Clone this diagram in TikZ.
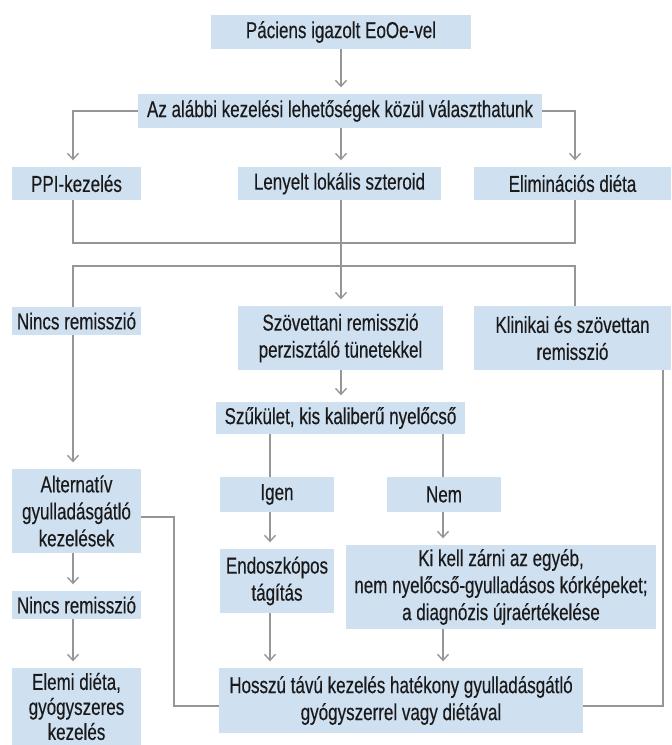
\documentclass[tikz,border=0pt]{standalone}
\usepackage{fontspec}
\setmainfont{Liberation Sans}[FakeStretch=0.74,FakeBold=0.35]
\usetikzlibrary{arrows.meta}
\definecolor{boxfill}{RGB}{207,224,241}
\definecolor{linegray}{RGB}{150,150,150}
\definecolor{txt}{RGB}{26,26,26}
\tikzset{
  box/.style={fill=boxfill, draw=none, inner sep=0pt, align=center, text=txt,
    font=\fontsize{23}{27}\selectfont},
  conn/.style={draw=linegray, line width=1.4pt},
  arr/.style={conn, -{Straight Barb[length=6pt,width=11pt]}, shorten >=6.5pt},
}
\begin{document}
\begin{tikzpicture}[x=1pt,y=-1pt]
\useasboundingbox (0,0) rectangle (672,745);
% column / row helper coordinates
\coordinate (cl) at (73,0);
\coordinate (cm) at (341,0);
\coordinate (cr) at (575,0);
\coordinate (ci) at (270,0);
\coordinate (cn) at (443,0);
\coordinate (ca) at (174,0);
\coordinate (cf) at (663,0);
\coordinate (j1) at (0,243);
\coordinate (j2) at (0,266);
\coordinate (ja) at (0,517);
\coordinate (jb) at (0,706);
% nodes
\node[box, minimum width=260pt, minimum height=34pt] (top) at (341,32) {Páciens igazolt EoOe-vel};
\node[box, minimum width=404pt, minimum height=34pt] (opts) at (340,111) {Az alábbi kezelési lehetőségek közül választhatunk};
\node[box, minimum width=129pt, minimum height=33pt] (ppi) at (76.5,183.5) {PPI-kezelés};
\node[box, minimum width=203pt, minimum height=33pt] (lenyelt) at (339.5,183.5) {Lenyelt lokális szteroid};
\node[box, minimum width=197pt, minimum height=33pt] (elim) at (572.5,183.5) {Eliminációs diéta};
\node[box, minimum width=129pt, minimum height=28pt] (nincsA) at (76.5,321) {Nincs remisszió};
\node[box, minimum width=205pt, minimum height=64pt] (szov) at (340.5,338) {Szövettani remisszió\\perzisztáló tünetekkel};
\node[box, minimum width=197pt, minimum height=64pt] (klin) at (572.5,338) {Klinikai és szövettan\\remisszió};
\node[box, minimum width=249pt, minimum height=32pt] (szuk) at (340.5,418) {Szűkület, kis kaliberű nyelőcső};
\node[box, minimum width=114pt, minimum height=35pt] (igen) at (277,494.5) {Igen};
\node[box, minimum width=114pt, minimum height=35pt] (nem) at (444,494.5) {Nem};
\node[box, minimum width=129pt, minimum height=84pt] (alt) at (76.5,511) {Alternatív\\gyulladásgátló\\kezelések};
\node[box, minimum width=114pt, minimum height=64pt] (endo) at (277,581) {Endoszkópos\\tágítás};
\node[box, minimum width=310pt, minimum height=84pt] (kikell) at (501,587) {Ki kell zárni az egyéb,\\nem nyelőcső-gyulladásos kórképeket;\\a diagnózis újraértékelése};
\node[box, minimum width=129pt, minimum height=28pt] (nincsB) at (76.5,605) {Nincs remisszió};
\node[box, minimum width=129pt, minimum height=77pt, font=\fontsize{23}{25}\selectfont] (elemi) at (76.5,706.5) {Elemi diéta,\\gyógyszeres\\kezelés};
\node[box, minimum width=364pt, minimum height=65pt] (hosszu) at (401,700.5) {Hosszú távú kezelés hatékony gyulladásgátló\\gyógyszerrel vagy diétával};
% connectors
\draw[arr] (cm |- top.south) -- (cm |- opts.north);
\draw[arr] (opts.west) -| (cl |- ppi.north);
\draw[arr] (opts.east) -| (cr |- elim.north);
\draw[arr] (cm |- opts.south) -- (cm |- lenyelt.north);
\draw[conn] (cl |- ppi.south) -- (cl |- j1) -- (cr |- j1) -- (cr |- elim.south);
\draw[arr] (cm |- lenyelt.south) -- (cm |- szov.north);
\draw[conn] (cl |- nincsA.north) -- (cl |- j2) -- (cr |- j2) -- (cr |- klin.north);
\draw[arr] (cl |- nincsA.south) -- (cl |- alt.north);
\draw[arr] (cm |- szov.south) -- (cm |- szuk.north);
\draw[conn] (ci |- szuk.south) -- (ci |- igen.north);
\draw[conn] (cn |- szuk.south) -- (cn |- nem.north);
\draw[arr] (ci |- igen.south) -- (ci |- endo.north);
\draw[arr] (cn |- nem.south) -- (cn |- kikell.north);
\draw[arr] (ci |- endo.south) -- (ci |- hosszu.north);
\draw[arr] (cn |- kikell.south) -- (cn |- hosszu.north);
\draw[arr] (cl |- alt.south) -- (cl |- nincsB.north);
\draw[arr] (cl |- nincsB.south) -- (cl |- elemi.north);
\draw[conn] (alt.east |- ja) -- (ca |- ja) -- (ca |- jb) -- (hosszu.west |- jb);
\draw[conn] (cf |- klin.south) -- (cf |- jb) -- (hosszu.east |- jb);
\end{tikzpicture}
\end{document}
